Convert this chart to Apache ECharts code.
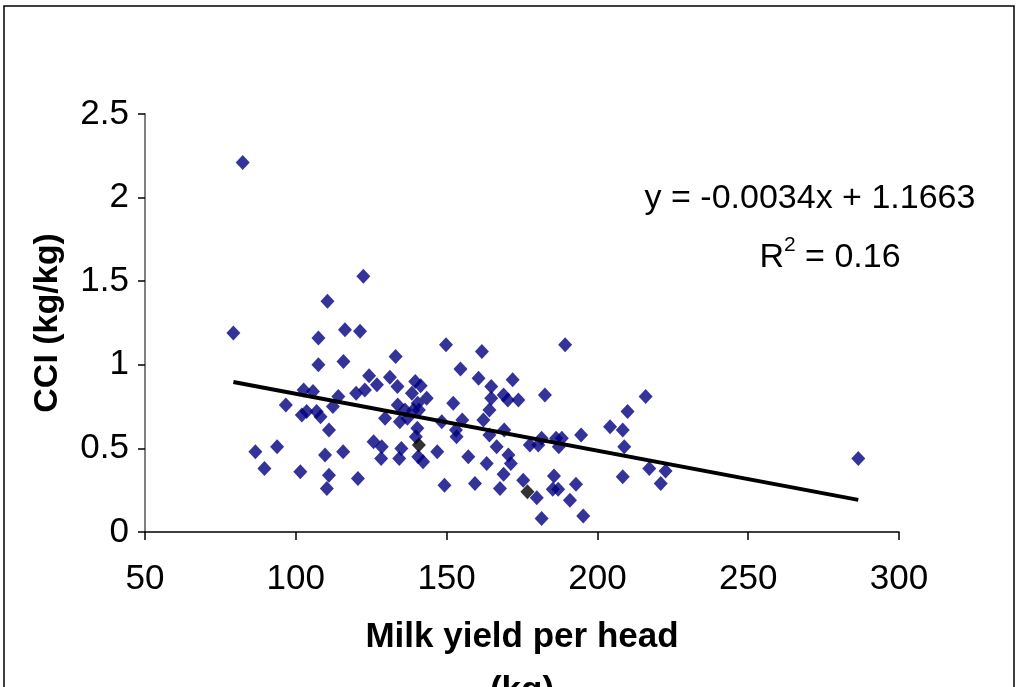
<!DOCTYPE html>
<html>
<head>
<meta charset="utf-8">
<script src="https://cdn.jsdelivr.net/npm/echarts@6/dist/echarts.min.js"></script>
<style>
  html, body { margin: 0; padding: 0; background: #fff; overflow: hidden; }
  #chart { width: 1017px; height: 687px; }
</style>
</head>
<body>
<div id="chart"></div>
<script>
// Milk yield per head (kg) and concentrate conversion index (kg/kg), one entry per farm
const milkYield = [
  79.3, 82.4, 86.6, 89.6, 93.8, 96.7, 101.5, 102.0, 102.6, 103.6,
  105.7, 106.9, 107.5, 107.5, 108.2, 109.7, 110.3, 110.5, 111.0, 111.0,
  112.3, 114.1, 115.7, 115.8, 116.3, 120.0, 120.6, 121.3, 122.4, 122.9,
  124.3, 125.8, 126.9, 128.5, 128.3, 129.6, 131.2, 133.1, 133.7, 133.8,
  134.5, 134.3, 135.0, 136.2, 137.0, 138.5, 139.0, 139.6, 139.8, 140.3,
  140.4, 140.8, 140.6, 141.4, 142.2, 143.4, 146.9, 148.4, 149.3, 149.8,
  152.2, 153.1, 153.3, 154.6, 155.2, 157.2, 159.4, 160.6, 161.7, 162.2,
  163.3, 164.2, 164.2, 164.8, 164.8, 166.6, 167.7, 168.9, 169.1, 168.9,
  170.5, 170.3, 171.3, 171.9, 173.8, 175.4, 177.6, 179.9, 180.4, 181.5,
  181.5, 182.6, 185.2, 185.6, 186.3, 187.0, 187.2, 188.2, 189.3, 190.9,
  192.9, 194.6, 195.3, 204.2, 208.4, 208.4, 208.9, 210.0, 216.0, 217.2,
  221.0, 222.6, 286.5
];
const cci = [
  1.19, 2.21, 0.48, 0.38, 0.51, 0.76, 0.36, 0.70, 0.85, 0.72,
  0.84, 0.72, 1.16, 1.00, 0.69, 0.46, 0.26, 1.38, 0.34, 0.61,
  0.75, 0.81, 0.48, 1.02, 1.21, 0.83, 0.32, 1.20, 1.53, 0.85,
  0.935, 0.54, 0.88, 0.51, 0.44, 0.68, 0.925, 1.05, 0.87, 0.76,
  0.66, 0.44, 0.50, 0.73, 0.68, 0.83, 0.73, 0.90, 0.57, 0.62,
  0.77, 0.73, 0.45, 0.875, 0.42, 0.80, 0.48, 0.66, 0.28, 1.12,
  0.77, 0.61, 0.57, 0.975, 0.67, 0.45, 0.29, 0.92, 1.08, 0.67,
  0.41, 0.73, 0.58, 0.87, 0.80, 0.51, 0.26, 0.82, 0.61, 0.345,
  0.46, 0.79, 0.41, 0.91, 0.79, 0.31, 0.52, 0.205, 0.52, 0.56,
  0.08, 0.82, 0.255, 0.335, 0.56, 0.255, 0.51, 0.56, 1.12, 0.19,
  0.285, 0.58, 0.095, 0.63, 0.61, 0.33, 0.51, 0.72, 0.81, 0.38,
  0.29, 0.365, 0.44
];
// Two farms drawn in black
const markedYield = [140.8, 176.8];
const markedCci = [0.52, 0.24];

// Linear trend stated on the chart
const slope = -0.0034;
const intercept = 1.1663;
const rSquared = '0.16';

const xAxisTitle = 'Milk yield per head\n(kg)';
const yAxisTitle = 'CCI (kg/kg)';

const FONT = '"Liberation Sans", Arial, Helvetica, sans-serif';

const points = milkYield.map((x, i) => [x, cci[i]]);
const marked = markedYield.map((x, i) => [x, markedCci[i]]);
const xLo = Math.min(...milkYield);
const xHi = Math.max(...milkYield);
const trend = [[xLo, slope * xLo + intercept], [xHi, slope * xHi + intercept]];

const chart = echarts.init(document.getElementById('chart'), null, {
  renderer: 'canvas', width: 1017, height: 687
});
chart.setOption({
  animation: false,
  backgroundColor: '#fff',
  grid: {
    left: 145, right: 118, top: 114, bottom: 155,
    containLabel: false, outerBoundsMode: 'none'
  },
  xAxis: {
    type: 'value', min: 50, max: 300, interval: 50,
    axisLine: { show: true, lineStyle: { color: '#000', width: 1.5 } },
    axisTick: { show: true, inside: false, length: 8, lineStyle: { color: '#000', width: 1.5 } },
    axisLabel: { color: '#000', fontFamily: FONT, fontSize: 35, margin: 30 },
    splitLine: { show: false },
    name: xAxisTitle, nameLocation: 'middle', nameGap: 78,
    nameTextStyle: { color: '#000', fontFamily: FONT, fontSize: 35, fontWeight: 'bold', lineHeight: 54 }
  },
  yAxis: {
    type: 'value', min: 0, max: 2.5, interval: 0.5,
    axisLine: { show: true, onZero: false, lineStyle: { color: '#808080', width: 2 } },
    axisTick: { show: true, inside: false, length: 7, lineStyle: { color: '#000', width: 1.5 } },
    axisLabel: { color: '#000', fontFamily: FONT, fontSize: 35, margin: 16 },
    splitLine: { show: false },
    name: yAxisTitle, nameLocation: 'middle', nameGap: 80, nameRotate: 90,
    nameTextStyle: { color: '#000', fontFamily: FONT, fontSize: 34, fontWeight: 'bold' }
  },
  series: [
    {
      type: 'scatter', data: points, symbol: 'diamond', symbolSize: [14, 15],
      itemStyle: { color: '#000080' }, z: 2
    },
    {
      type: 'scatter', data: marked, symbol: 'diamond', symbolSize: [14, 15],
      itemStyle: { color: '#000' }, z: 3
    },
    {
      type: 'line', data: trend, symbol: 'none', silent: true,
      lineStyle: { color: '#000', width: 4 }, z: 4
    }
  ],
  graphic: [
    {
      type: 'rect', silent: true, z: 0,
      shape: { x: 4, y: 6, width: 1010, height: 720 },
      style: { fill: 'none', stroke: '#000', lineWidth: 1.5 }
    },
    {
      type: 'text', z: 10,
      style: {
        x: 810, y: 199, text: 'y = ' + slope.toFixed(4) + 'x + ' + intercept.toFixed(4),
        font: '34px ' + FONT, fill: '#000', align: 'center', verticalAlign: 'middle'
      }
    },
    {
      type: 'text', z: 10,
      style: {
        x: 830, y: 255, text: '{b|R}{s|2}{b| = ' + rSquared + '}',
        align: 'center', verticalAlign: 'middle', fill: '#000',
        rich: {
          b: { fontFamily: FONT, fontSize: 34, lineHeight: 40, verticalAlign: 'bottom', fill: '#000' },
          s: { fontFamily: FONT, fontSize: 21, lineHeight: 40, verticalAlign: 'top', fill: '#000' }
        }
      }
    }
  ]
});
</script>
</body>
</html>
